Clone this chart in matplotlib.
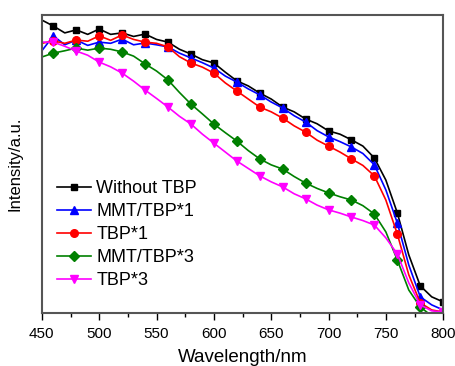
import matplotlib
matplotlib.use("Agg")
import matplotlib.pyplot as plt
from matplotlib.ticker import MultipleLocator

plt.rcParams['font.family'] = ['Liberation Sans', 'DejaVu Sans']

# wavelength grid (nm)
wavelength = [450, 460, 470, 480, 490, 500, 510, 520, 530, 540, 550, 560,
              570, 580, 590, 600, 610, 620, 630, 640, 650, 660, 670, 680,
              690, 700, 710, 720, 730, 740, 750, 760, 770, 780, 790, 800]

without_tbp = [0.983, 0.963, 0.940, 0.950, 0.935, 0.953, 0.935, 0.940, 0.928, 0.936,
               0.918, 0.909, 0.885, 0.869, 0.850, 0.839, 0.808, 0.779, 0.762, 0.738,
               0.718, 0.691, 0.675, 0.651, 0.635, 0.611, 0.600, 0.581, 0.560, 0.520,
               0.446, 0.336, 0.195, 0.091, 0.054, 0.037]
mmt_tbp1 = [0.880, 0.930, 0.900, 0.916, 0.898, 0.909, 0.905, 0.919, 0.900, 0.906,
            0.900, 0.893, 0.872, 0.856, 0.840, 0.822, 0.795, 0.775, 0.752, 0.732,
            0.708, 0.688, 0.662, 0.641, 0.612, 0.591, 0.575, 0.557, 0.535, 0.497,
            0.413, 0.302, 0.161, 0.054, 0.027, 0.010]
tbp1 = [0.905, 0.913, 0.905, 0.916, 0.912, 0.930, 0.915, 0.933, 0.918, 0.909,
        0.905, 0.893, 0.860, 0.839, 0.825, 0.805, 0.772, 0.745, 0.718, 0.691,
        0.675, 0.654, 0.628, 0.607, 0.580, 0.560, 0.540, 0.517, 0.495, 0.460,
        0.379, 0.265, 0.128, 0.034, 0.010, 0.003]
mmt_tbp3 = [0.859, 0.872, 0.880, 0.889, 0.882, 0.889, 0.885, 0.876, 0.862, 0.836,
            0.812, 0.782, 0.740, 0.701, 0.668, 0.634, 0.605, 0.577, 0.545, 0.517,
            0.497, 0.483, 0.458, 0.436, 0.418, 0.403, 0.390, 0.379, 0.360, 0.332,
            0.272, 0.178, 0.077, 0.020, -0.010, -0.020]
tbp3 = [0.909, 0.909, 0.895, 0.879, 0.865, 0.842, 0.826, 0.805, 0.778, 0.748,
        0.720, 0.691, 0.660, 0.634, 0.600, 0.570, 0.540, 0.510, 0.485, 0.460,
        0.440, 0.423, 0.400, 0.383, 0.362, 0.346, 0.335, 0.322, 0.310, 0.295,
        0.252, 0.198, 0.101, 0.027, 0.007, 0.003]

fig = plt.figure(figsize=(4.55, 3.66), dpi=100)
ax = fig.add_axes([0.092, 0.145, 0.882, 0.814])

marks = slice(1, None, 2)
ax.plot(wavelength, without_tbp, color='black', marker='s', ms=5, lw=1.2,
        markevery=marks, label='Without TBP')
ax.plot(wavelength, mmt_tbp1, color='#0000ff', marker='^', ms=6, lw=1.2,
        markevery=marks, label='MMT/TBP*1')
ax.plot(wavelength, tbp1, color='#ff0000', marker='o', ms=5.5, lw=1.2,
        markevery=marks, label='TBP*1')
ax.plot(wavelength, mmt_tbp3, color='#008000', marker='D', ms=5, lw=1.2,
        markevery=marks, label='MMT/TBP*3')
ax.plot(wavelength, tbp3, color='#ff00ff', marker='v', ms=6, lw=1.2,
        markevery=marks, label='TBP*3')

ax.set_xlim(450, 800)
ax.set_ylim(0, 1)
ax.xaxis.set_major_locator(MultipleLocator(50))
ax.xaxis.set_minor_locator(MultipleLocator(25))
ax.tick_params(axis='x', which='major', direction='out', length=5, width=1,
               labelsize=11, pad=5, top=False)
ax.tick_params(axis='x', which='minor', direction='out', length=3, width=1, top=False)
ax.set_yticks([])

for s in ax.spines.values():
    s.set_color('#555555')
    s.set_linewidth(1.5)

ax.set_xlabel('Wavelength/nm', fontsize=13.5, labelpad=6)
ax.set_ylabel('Intensity/a.u.', fontsize=12, labelpad=14)

ax.legend(loc='center left', bbox_to_anchor=(0.037, 0.262), frameon=False,
          fontsize=13, handlelength=1.9, handletextpad=0.3, labelspacing=0.33,
          borderpad=0, borderaxespad=0)

fig.savefig('out.png', dpi=100)
